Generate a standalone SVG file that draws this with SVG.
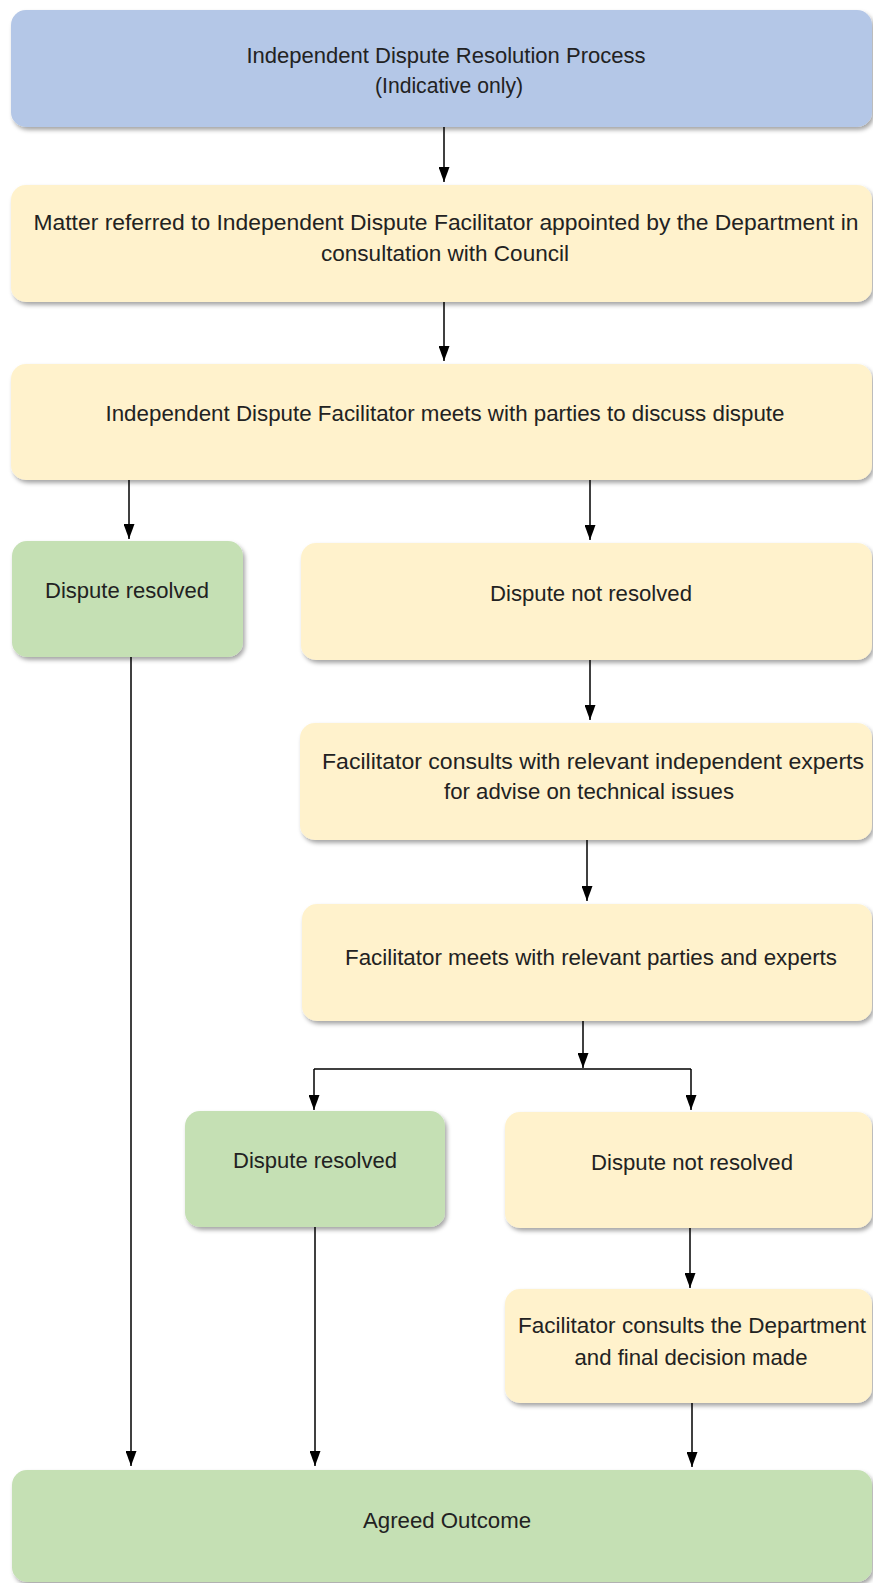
<svg xmlns="http://www.w3.org/2000/svg" width="873" height="1583" viewBox="0 0 873 1583">
<defs>
<filter id="sh" x="-5%" y="-10%" width="115%" height="130%">
<feDropShadow dx="2" dy="3" stdDeviation="2" flood-color="#000" flood-opacity="0.35"/>
</filter>
<marker id="ah" viewBox="0 0 15 11" refX="15" refY="5.5" markerWidth="15" markerHeight="11" orient="auto" markerUnits="userSpaceOnUse">
<path d="M0,0 L15,5.5 L0,11 z" fill="#000"/>
</marker>
</defs>
<style>
.blue{fill:#B4C7E7;filter:url(#sh)}
.yel{fill:#FFF2CC;filter:url(#sh)}
.grn{fill:#C5E0B4;filter:url(#sh)}
text{font-family:"Liberation Sans",Arial,sans-serif;font-size:22px;fill:#222;text-anchor:middle}
.c{fill:none;stroke:#000;stroke-width:1.5}
.ca{fill:none;stroke:#000;stroke-width:1.5;marker-end:url(#ah)}
</style>
<g id="connectors">
<path class="ca" d="M444,127 V182"/>
<path class="ca" d="M444,302 V361"/>
<path class="ca" d="M129,480 V539"/>
<path class="ca" d="M590,480 V540"/>
<path class="ca" d="M131,657 V1466"/>
<path class="ca" d="M590,660 V720"/>
<path class="ca" d="M587,840 V901"/>
<path class="ca" d="M583,1021 V1068"/>
<path class="c" d="M314,1069 H691"/>
<path class="ca" d="M314,1069 V1110"/>
<path class="ca" d="M691,1069 V1110"/>
<path class="ca" d="M315,1227 V1466"/>
<path class="ca" d="M690,1228 V1288"/>
<path class="ca" d="M692,1403 V1467"/>
</g>
<g id="title">
<rect class="blue" x="11" y="10" width="861" height="117" rx="15"/>
<text x="446" y="63" textLength="399" lengthAdjust="spacingAndGlyphs">Independent Dispute Resolution Process</text>
<text x="449" y="93" textLength="148" lengthAdjust="spacingAndGlyphs">(Indicative only)</text>
</g>
<g id="referred">
<rect class="yel" x="11" y="185" width="861" height="117" rx="15"/>
<text x="446" y="230" textLength="825" lengthAdjust="spacingAndGlyphs">Matter referred to Independent Dispute Facilitator appointed by the Department in</text>
<text x="445" y="261" textLength="248" lengthAdjust="spacingAndGlyphs">consultation with Council</text>
</g>
<g id="meets">
<rect class="yel" x="11" y="364" width="861" height="116" rx="15"/>
<text x="445" y="421" textLength="679" lengthAdjust="spacingAndGlyphs">Independent Dispute Facilitator meets with parties to discuss dispute</text>
</g>
<g id="resolved1">
<rect class="grn" x="12" y="541" width="231" height="116" rx="15"/>
<text x="127" y="598" textLength="164" lengthAdjust="spacingAndGlyphs">Dispute resolved</text>
</g>
<g id="notresolved1">
<rect class="yel" x="301" y="543" width="571" height="117" rx="15"/>
<text x="591" y="601" textLength="202" lengthAdjust="spacingAndGlyphs">Dispute not resolved</text>
</g>
<g id="experts">
<rect class="yel" x="300" y="723" width="572" height="117" rx="15"/>
<text x="593" y="769" textLength="542" lengthAdjust="spacingAndGlyphs">Facilitator consults with relevant independent experts</text>
<text x="589" y="799" textLength="290" lengthAdjust="spacingAndGlyphs">for advise on technical issues</text>
</g>
<g id="meets2">
<rect class="yel" x="302" y="904" width="570" height="117" rx="15"/>
<text x="591" y="965" textLength="492" lengthAdjust="spacingAndGlyphs">Facilitator meets with relevant parties and experts</text>
</g>
<g id="resolved2">
<rect class="grn" x="185" y="1111" width="260" height="116" rx="15"/>
<text x="315" y="1168" textLength="164" lengthAdjust="spacingAndGlyphs">Dispute resolved</text>
</g>
<g id="notresolved2">
<rect class="yel" x="505" y="1112" width="367" height="116" rx="15"/>
<text x="692" y="1170" textLength="202" lengthAdjust="spacingAndGlyphs">Dispute not resolved</text>
</g>
<g id="decision">
<rect class="yel" x="505" y="1289" width="367" height="114" rx="15"/>
<text x="692" y="1333" textLength="348" lengthAdjust="spacingAndGlyphs">Facilitator consults the Department</text>
<text x="691" y="1365" textLength="233" lengthAdjust="spacingAndGlyphs">and final decision made</text>
</g>
<g id="outcome">
<rect class="grn" x="12" y="1470" width="860" height="112" rx="15"/>
<text x="447" y="1528" textLength="168" lengthAdjust="spacingAndGlyphs">Agreed Outcome</text>
</g>
</svg>
